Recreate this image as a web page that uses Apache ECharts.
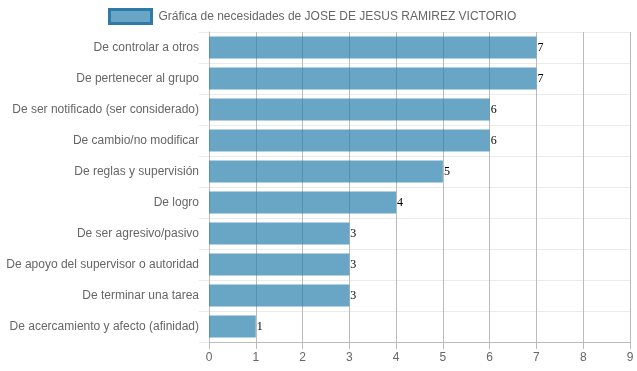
<!DOCTYPE html>
<html><head><meta charset="utf-8">
<script src="https://cdn.jsdelivr.net/npm/echarts@6/dist/echarts.min.js"></script>
<style>html,body{margin:0;padding:0;background:#fff}#c{width:637px;height:371px}</style>
</head><body><div id="c"></div>
<script>
const seriesName = 'Gráfica de necesidades de JOSE DE JESUS RAMIREZ VICTORIO';
const categories = [
  'De controlar a otros',
  'De pertenecer al grupo',
  'De ser notificado (ser considerado)',
  'De cambio/no modificar',
  'De reglas y supervisión',
  'De logro',
  'De ser agresivo/pasivo',
  'De apoyo del supervisor o autoridad',
  'De terminar una tarea',
  'De acercamiento y afecto (afinidad)'
];
const values = [7, 7, 6, 6, 5, 4, 3, 3, 3, 1];
const xTicks = [0, 1, 2, 3, 4, 5, 6, 7, 8, 9];

const chart = echarts.init(document.getElementById('c'), null, {renderer: 'canvas'});
chart.setOption({
  animation: false,
  textStyle: {fontFamily: 'Liberation Sans, Arial, sans-serif'},
  legend: {
    top: 8, left: 108, padding: 0,
    itemWidth: 42, itemHeight: 14, itemGap: 6,
    icon: 'rect',
    textStyle: {color: '#666', fontSize: 12, fontFamily: 'Liberation Sans, Arial, sans-serif', padding: [0,0,0,2]},
    data: [{name: seriesName, itemStyle: {color: 'rgba(41,128,172,0.7)', borderColor: '#2f7aa8', borderWidth: 3}}]
  },
  grid: {left: 209, right: 7, top: 32, bottom: 29, containLabel: false},
  xAxis: {
    type: 'value', min: xTicks[0], max: xTicks[xTicks.length - 1], interval: 1,
    axisLine: {show: true, lineStyle: {color: '#bbb'}},
    axisTick: {show: true, length: 7, lineStyle: {color: '#bbb'}},
    splitLine: {show: true, lineStyle: {color: '#bbb'}},
    axisLabel: {color: '#666', fontSize: 12, margin: 10, fontFamily: 'Liberation Sans, Arial, sans-serif'}
  },
  yAxis: {
    type: 'category', inverse: true, data: categories,
    axisLine: {show: true, lineStyle: {color: '#bbb'}},
    axisTick: {show: true, length: 10, lineStyle: {color: '#ebebeb'}},
    splitLine: {show: true, lineStyle: {color: '#ebebeb'}},
    axisLabel: {color: '#666', fontSize: 12, margin: 10, fontFamily: 'Liberation Sans, Arial, sans-serif'}
  },
  series: [{
    name: seriesName, type: 'bar', data: values,
    barCategoryGap: '29%',
    itemStyle: {color: 'rgba(41,128,172,0.7)'},
    label: {show: true, position: 'right', distance: 1, color: '#000', fontSize: 12,
      fontFamily: 'Liberation Serif, Times New Roman, serif'}
  }]
});
</script></body></html>
